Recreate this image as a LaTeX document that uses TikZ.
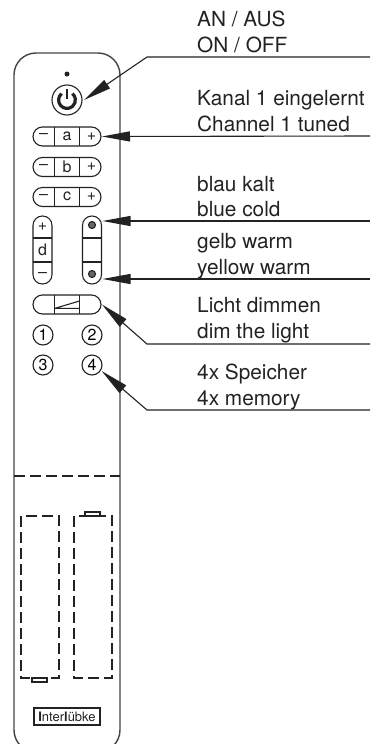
\documentclass[tikz,border=0pt]{standalone}
\usepackage{fontspec}
\setmainfont{TeX Gyre Heros}
\usetikzlibrary{arrows.meta,shapes.misc}
\definecolor{ink}{HTML}{222222}
\definecolor{dotgray}{HTML}{666666}
\tikzset{
  outline/.style={draw=ink,line width=1.1pt},
  body/.style={draw=ink!85,line width=1.4pt},
  hbtn/.style={outline,rounded rectangle,minimum width=68pt,minimum height=19pt,inner sep=0pt,outer sep=0pt},
  vbtn/.style={outline,rectangle,rounded corners=9.4pt,minimum width=19pt,minimum height=68pt,inner sep=0pt,outer sep=0pt},
  num/.style={outline,circle,minimum size=20pt,inner sep=0pt,outer sep=0pt,font=\fontsize{16}{16}\selectfont},
  key/.style={inner sep=0pt,text=ink,font=\fontsize{16}{16}\selectfont},
  ldot/.style={draw=ink,fill=dotgray,circle,line width=1.1pt,minimum size=7pt,inner sep=0pt},
  lab/.style={anchor=base west,inner sep=0pt,text=ink,font=\fontsize{20.8}{20.8}\selectfont},
  lead/.style={draw=ink,line width=1.1pt,-{Triangle[length=28pt,width=10pt]}},
  dashline/.style={draw=ink,line width=1.2pt,dash pattern=on 11pt off 5pt},
}
\begin{document}
\begin{tikzpicture}[x=1pt,y=-1pt]
\useasboundingbox (0,0) rectangle (370,744);
\clip (0,0) rectangle (370,744);
% housing
\draw[body,rounded corners=22pt] (14,53) rectangle (120,752);
\node[circle,fill=ink,minimum size=5pt,inner sep=0pt] (led) at (67,74) {};
% power button
\node[outline,circle,minimum size=30pt,inner sep=0pt,outer sep=0pt] (power) at (67,100) {};
\draw[ink,line width=3.2pt] (61.6,93.6) arc[start angle=130,end angle=410,radius=8.4pt];
\draw[ink,line width=2pt] (67,89) -- (67,99);
% channel buttons
\foreach \n/\y/\t in {a/136.5/a,b/167/b,c/197/c}{
  \node[hbtn] (btn\n) at (67,\y) {};
  \draw[outline] (54.5,\y-9.5) -- (54.5,\y+9.5) (79.5,\y-9.5) -- (79.5,\y+9.5);
  \node[key] (lbl\n) at (67,\y-0.5) {\t};
  \node[key] (minus\n) at (43.5,\y) {–};
  \node[key] (plus\n) at (91.5,\y) {+};
}
% d button
\node[vbtn] (btnd) at (42.5,250) {};
\draw[outline] (33,238) -- (52,238) (33,262) -- (52,262);
\node[key] (plusd) at (42.5,227) {+};
\node[key] (lbld) at (42.5,250) {d};
\node[key] (minusd) at (42.5,275) {–};
% colour button
\node[vbtn] (btncol) at (92,250) {};
\draw[outline] (82.5,238) -- (101.5,238) (82.5,262) -- (101.5,262);
\node[ldot] (blue) at (92,225) {};
\node[ldot] (yellow) at (92,274) {};
% dim button
\node[hbtn] (dim) at (67,304.5) {};
\draw[outline] (54.5,295) -- (54.5,314) (79.5,295) -- (79.5,314);
\draw[outline] (55,308.3) -- (79.5,301) (55,308.3) -- (79.5,308.3);
% memories
\node[num] (m1) at (43,335) {1};
\node[num] (m2) at (92,335) {2};
\node[num] (m3) at (43,365) {3};
\node[num] (m4) at (92,365) {4};
% battery compartment
\draw[dashline] (14,476) -- (120,476);
\draw[dashline] (21,516) rectangle (59,678);
\draw[dashline] (74,516) rectangle (112,678);
\draw[outline,line width=1.3pt] (85,512) rectangle (100,516);
\draw[outline,line width=1.3pt] (32,678) rectangle (47,682);
\node[outline,line width=1.4pt,minimum width=66pt,minimum height=17pt,inner sep=0pt,text=ink,font=\fontsize{13}{13}\selectfont] (logo) at (67,716.5) {\textbf{I}nter\textbf{l}übke};
% labels
\node[lab] (t1a) at (197,27) {AN / AUS};
\node[lab] (t1b) at (197,52) {ON / OFF};
\node[lab] (t2a) at (197,105) {Kanal 1 eingelernt};
\node[lab] (t2b) at (197,131) {Channel 1 tuned};
\node[lab] (t3a) at (197,191) {blau kalt};
\node[lab] (t3b) at (197,216) {blue cold};
\node[lab] (t4a) at (197,248) {gelb warm};
\node[lab] (t4b) at (197,274) {yellow warm};
\node[lab] (t5a) at (197,312) {Licht dimmen};
\node[lab] (t5b) at (197,338) {dim the light};
\node[lab] (t6a) at (197,379) {4x Speicher};
\node[lab] (t6b) at (197,405) {4x memory};
% connector ends
\coordinate (e1) at (370,57);
\coordinate (k1) at (147,57);
\coordinate (e2) at (370,136);
\coordinate (e3) at (370,221);
\coordinate (e4) at (370,279);
\coordinate (e5) at (370,344);
\coordinate (k5) at (147,344);
\coordinate (e6) at (370,410);
\coordinate (k6) at (147,410);
\draw[lead] (e1) -- (k1) -- ([xshift=2pt]power.east);
\draw[lead] (e2) -- ([xshift=1pt]btna.east);
\draw[lead] (e3) -- ([xshift=1pt,yshift=-5pt]btncol.north east);
\draw[lead] (e4) -- ([xshift=1pt,yshift=5pt]btncol.south east);
\draw[lead] (e5) -- (k5) -- ([xshift=1pt]dim.east);
\draw[lead] (e6) -- (k6) -- ([xshift=1pt,yshift=-1pt]m4.-30);
\end{tikzpicture}
\end{document}
